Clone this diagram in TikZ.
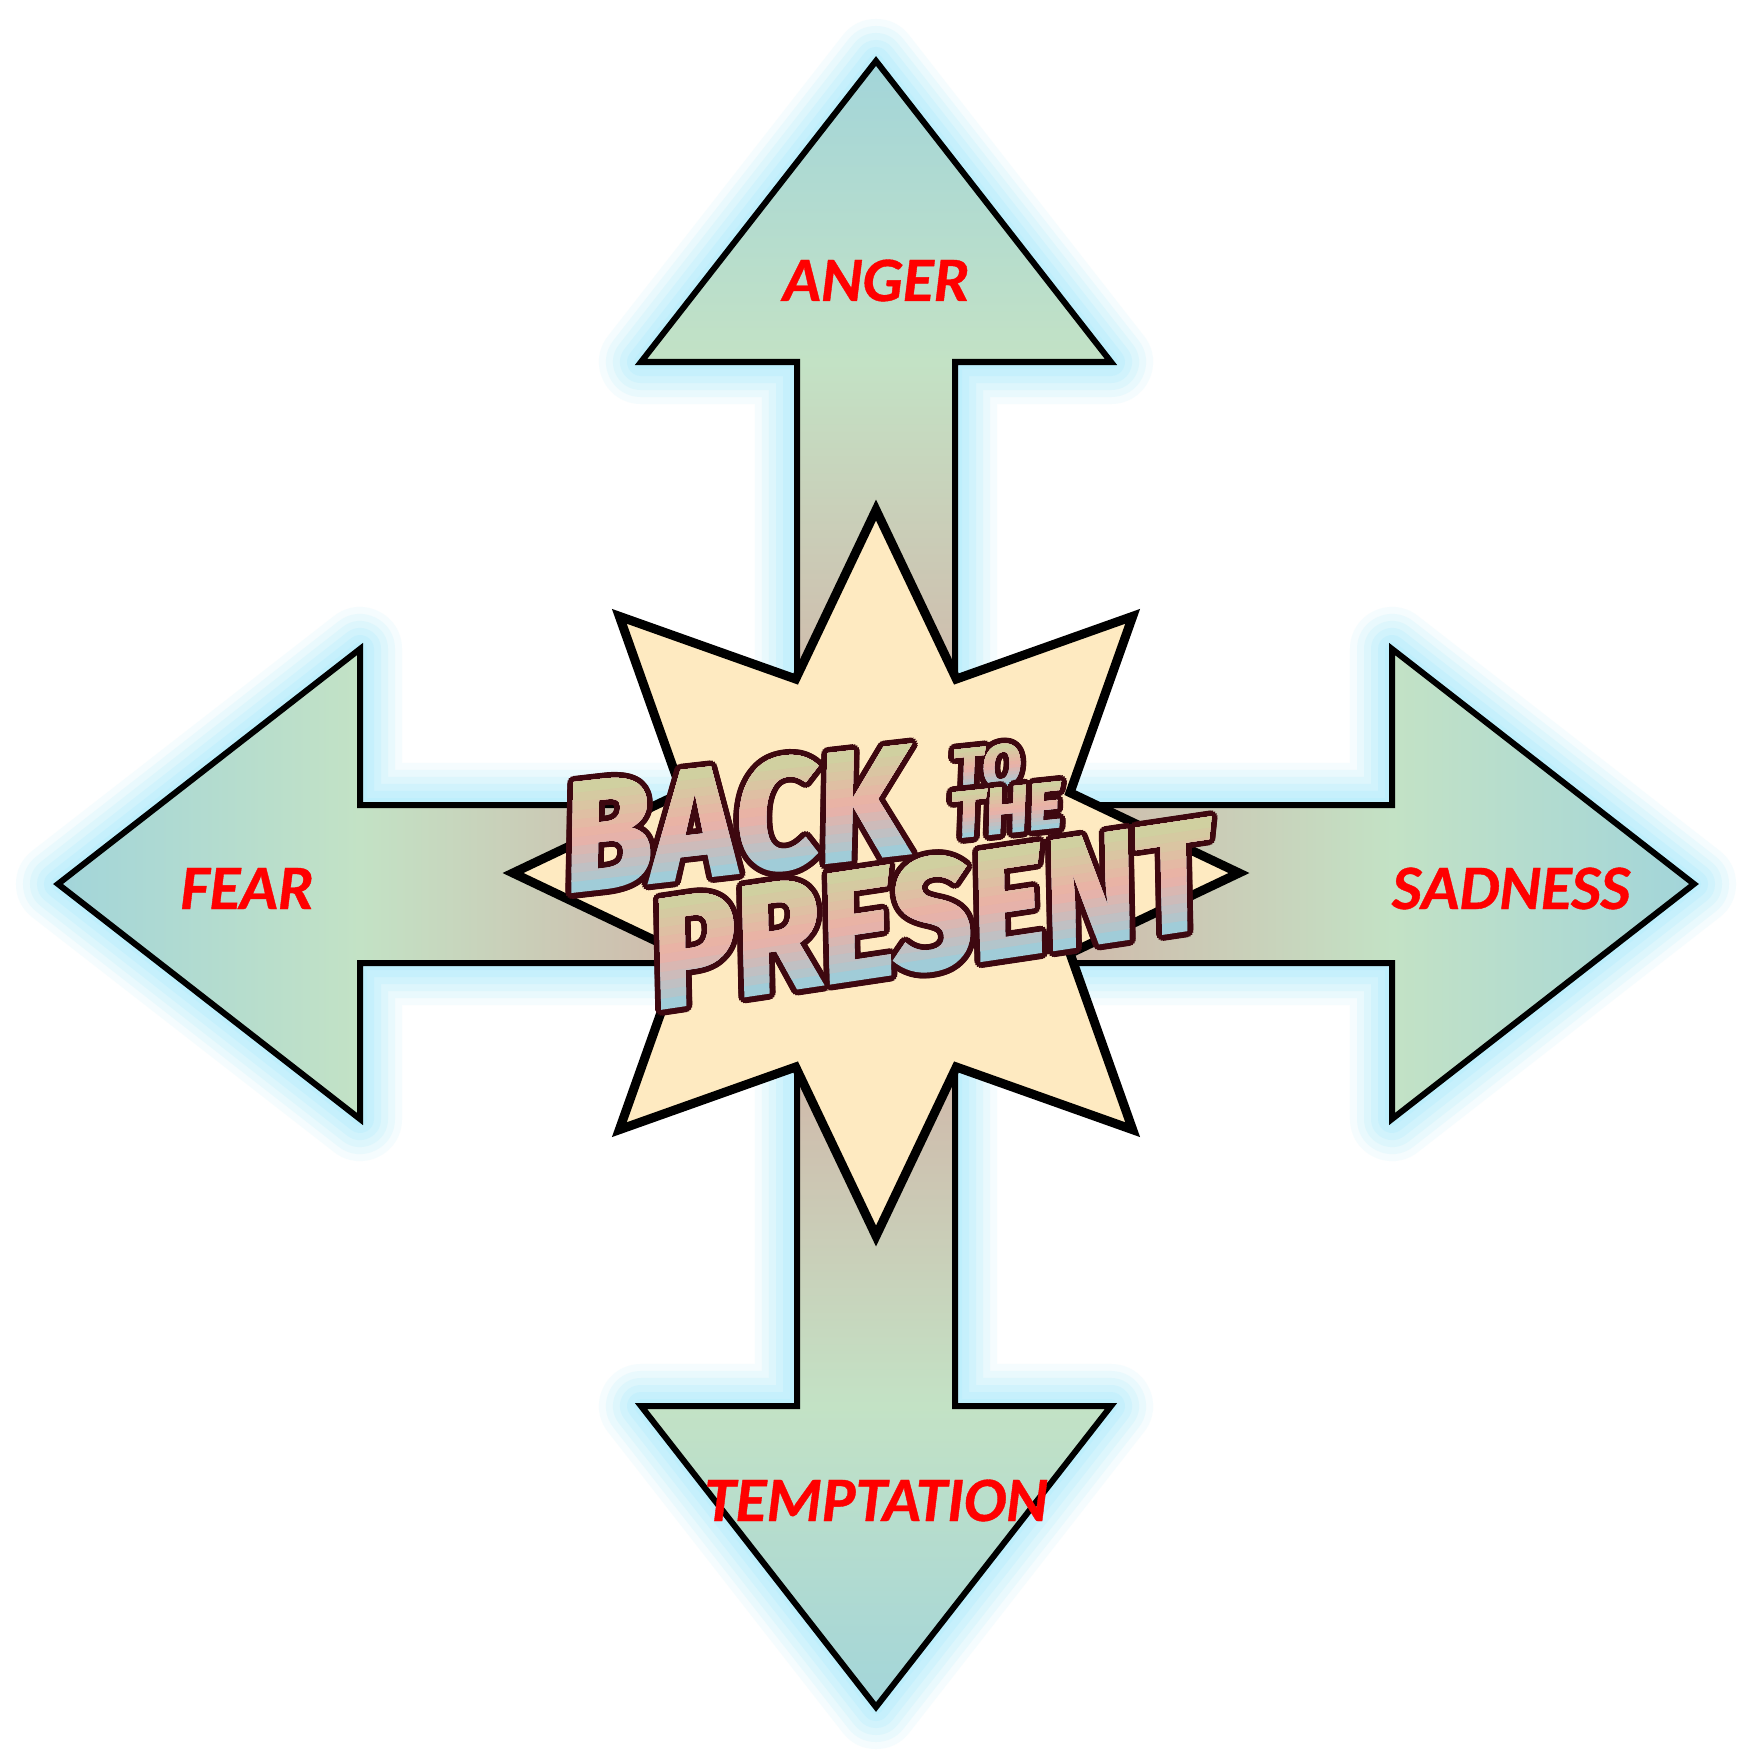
\documentclass[tikz,border=0pt]{standalone}
\usepackage{fontspec}
\newfontfamily\labelfont{Carlito}[BoldItalicFeatures={FakeBold=0.6}]
\newfontfamily\titlefont{Fira Sans}[BoldItalicFeatures={FakeBold=1.8}]
\definecolor{glowc}{HTML}{BCEFFC}
\definecolor{tipc}{HTML}{A0D4DB}
\definecolor{midc}{HTML}{C3E2C5}
\definecolor{cenc}{HTML}{D8A29B}
\definecolor{starc}{HTML}{FEEAC1}
\definecolor{lblc}{HTML}{FF0000}
\definecolor{ttop}{HTML}{CDD3A0}
\definecolor{tmid}{HTML}{ECB0A6}
\definecolor{tbot}{HTML}{A0CCD8}
\definecolor{tline}{HTML}{3E0810}
\tikzset{
  arrowline/.style={draw=black, line width=0.6mm, line join=miter},
  starline/.style={draw=black, fill=starc, line width=0.9mm, line join=miter, miter limit=20},
  lbl/.style={text=lblc, font=\labelfont\bfseries\itshape\fontsize{18}{18}\selectfont, inner sep=0pt, anchor=base},
  titleword/.style 2 args={font=\titlefont\bfseries\itshape\fontsize{#1}{#1}\selectfont, xscale=#2, inner sep=0pt, anchor=center}
}
% #1 x, #2 y, #3 angle, #4 font size, #5 xscale, #6 text, #7 half cap height (px)
\newcommand\gradword[7]{%
  \begin{scope}[shift={(#1,#2)}, rotate=#3, transform shape]
    \foreach \oa in {0,22.5,...,337.5}
      \node[titleword={#4}{#5}, text=tline] at (\oa:6) {#6};
    \node[titleword={#4}{#5}, text=tbot] at (0,0) {#6};
    \foreach \k in {1,...,11} {
      \pgfmathsetmacro\yy{-#7 + 2*#7*(12-\k)/12}
      \pgfmathsetmacro\ss{(12-\k-0.5)/12}
      \pgfmathtruncatemacro\pa{min(100,200*\ss)}
      \pgfmathtruncatemacro\pb{max(0,200*\ss-100)}
      \ifdim\ss pt<0.5pt \edef\bandcol{tmid!\pa!ttop}\else\edef\bandcol{tbot!\pb!tmid}\fi
      \begin{scope}
        \clip (-2000,-1000) rectangle (2000,\yy);
        \node[titleword={#4}{#5}, text=\bandcol] at (0,0) {#6};
      \end{scope}
    }
  \end{scope}}
\begin{document}
\begin{tikzpicture}[x=0.01cm, y=-0.01cm]
\fill[white] (0,0) rectangle (1750,1764);
\useasboundingbox (0,0) rectangle (1750,1764);
\def\upath{(876,61) -- (1111,362) -- (955,362) -- (955,884) -- (797,884) -- (797,362) -- (641,362) -- cycle}
\def\dpath{(876,1707) -- (641,1406) -- (797,1406) -- (797,884) -- (955,884) -- (955,1406) -- (1111,1406) -- cycle}
\def\lpath{(58,884) -- (360,649) -- (360,805) -- (876,805) -- (876,963) -- (360,963) -- (360,1119) -- cycle}
\def\rpath{(1694,884) -- (1392,649) -- (1392,805) -- (876,805) -- (876,963) -- (1392,963) -- (1392,1119) -- cycle}
% glow
\foreach \w/\o in {84/0.14,70/0.2,56/0.26,42/0.36,28/0.5,14/0.7} {
  \draw[glowc, line width=\w*0.1mm, opacity=\o, line join=round] \upath \dpath \lpath \rpath;
}
% up arrow
\begin{scope}
  \clip \upath;
  \shade[top color=tipc, bottom color=midc] (600,40) rectangle (1150,362);
  \shade[top color=midc, bottom color=cenc] (600,362) rectangle (1150,884);
\end{scope}
\draw[arrowline] \upath;
% down arrow
\begin{scope}
  \clip \dpath;
  \shade[top color=cenc, bottom color=midc] (600,884) rectangle (1150,1406);
  \shade[top color=midc, bottom color=tipc] (600,1406) rectangle (1150,1730);
\end{scope}
\draw[arrowline] \dpath;
% left arrow
\begin{scope}
  \clip \lpath;
  \shade[left color=tipc, right color=midc] (40,640) rectangle (360,1130);
  \shade[left color=midc, right color=cenc] (360,640) rectangle (876,1130);
\end{scope}
\draw[arrowline] \lpath;
% right arrow
\begin{scope}
  \clip \rpath;
  \shade[left color=cenc, right color=midc] (876,640) rectangle (1392,1130);
  \shade[left color=midc, right color=tipc] (1392,640) rectangle (1710,1130);
\end{scope}
\draw[arrowline] \rpath;
% star
\begin{scope}[shift={(876,873)}]
  \draw[starline] (0:363) -- (22.5:210) -- (45:363) -- (67.5:210) -- (90:363) -- (112.5:210) -- (135:363) -- (157.5:210) -- (180:363) -- (202.5:210) -- (225:363) -- (247.5:210) -- (270:363) -- (292.5:210) -- (315:363) -- (337.5:210) -- cycle;
\end{scope}
% labels
\node[lbl] (anger) at (876,301) {ANGER};
\node[lbl] (fear) at (247,909) {FEAR};
\node[lbl] (sadness) at (1511,909) {SADNESS};
\node[lbl] (temptation) at (876,1521) {TEMPTATION};
% title
\gradword{735}{819}{6.5}{44}{0.95}{BACK}{53}
\gradword{987}{767}{6}{16.5}{1}{TO}{20}
\gradword{1006}{810}{6}{18.5}{1}{THE}{22}
\gradword{930}{914}{8.5}{44}{0.92}{PRESENT}{53}
\end{tikzpicture}
\end{document}
